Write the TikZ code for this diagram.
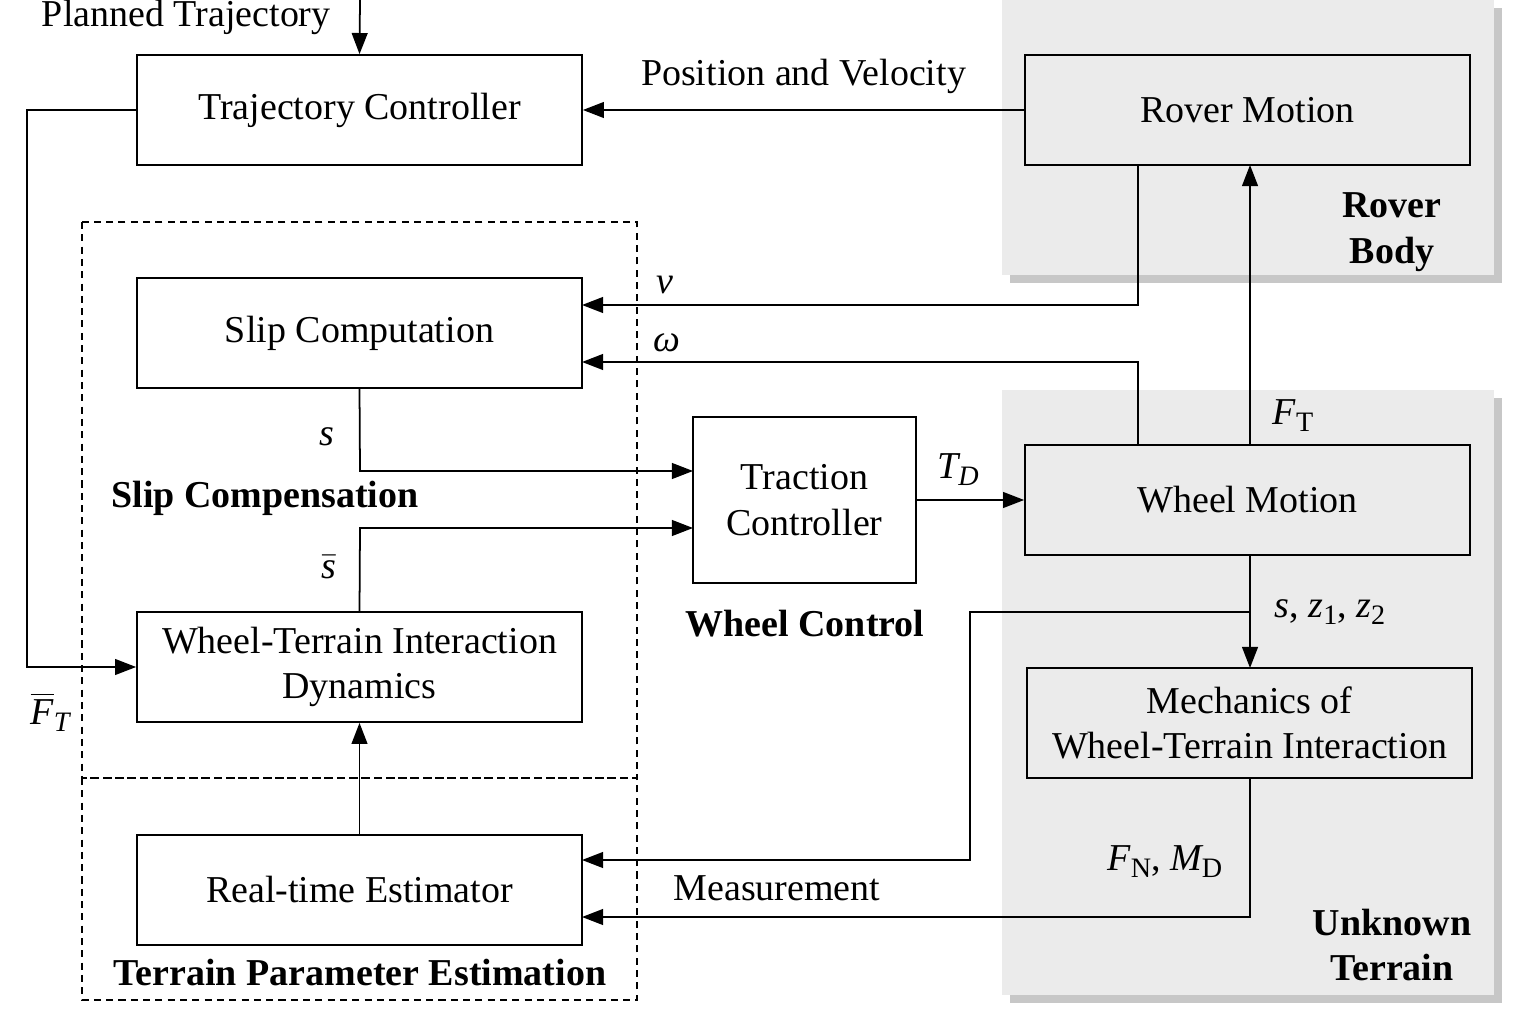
\documentclass[tikz,border=0pt]{standalone}
\usepackage{fontspec}
\setmainfont{Liberation Serif}
\usetikzlibrary{arrows.meta}
\begin{document}
\begin{tikzpicture}[x=0.01cm,y=-0.01cm,
  font=\fontsize{10.8}{13}\selectfont,
  blk/.style={draw,line width=0.5pt,inner sep=0pt,align=center},
  ln/.style={line width=0.5pt},
  ar/.style={ln,-{Triangle[length=6pt,width=4.5pt]}},
  bl/.style={font=\fontsize{10.8}{13}\selectfont\bfseries,align=center},
  panel/.style={fill=black!8},
  shadow/.style={fill=black!22}]
\useasboundingbox (0,0) rectangle (1516,1019);
% panels
\fill[shadow] (1010,8) rectangle (1502,283);
\fill[panel] (1002,0) rectangle (1494,275);
\fill[shadow] (1010,398) rectangle (1502,1003);
\fill[panel] (1002,390) rectangle (1494,995);
% dashed groups
\draw[ln,dash pattern=on 2pt off 1.5pt] (82,222) rectangle (637,778);
\draw[ln,dash pattern=on 2pt off 1.5pt] (82,778) rectangle (637,1000);
% boxes
\newcommand\mybox[6]{\node[blk,fill=#6,minimum width=#3*0.01cm,minimum height=#4*0.01cm] (#5) at (#1,#2) {};}
\mybox{359.5}{110}{445}{110}{tc}{white}
\mybox{1247.5}{110}{445}{110}{rm}{black!8}
\mybox{359.5}{333}{445}{110}{sc}{white}
\mybox{804.5}{500}{223}{166}{trc}{white}
\mybox{1247.5}{500}{445}{110}{wm}{black!8}
\mybox{359.5}{667}{445}{110}{wti}{white}
\mybox{1249.5}{723}{445}{110}{mech}{black!8}
\mybox{359.5}{890}{445}{110}{rte}{white}
\node at (tc) {Trajectory Controller};
\node at (rm) {Rover Motion};
\node at (sc) {Slip Computation};
\node[align=center] at (trc) {Traction\\Controller};
\node at (wm) {Wheel Motion};
\node[align=center] at (wti) {Wheel-Terrain Interaction\\Dynamics};
\node[align=center] at (mech) {Mechanics of\\Wheel-Terrain Interaction};
\node at (rte) {Real-time Estimator};
% group labels
\node[bl] at (1392,232) {Rover\\Body};
\node[bl] at (1392,945) {Unknown\\Terrain};
\node[bl] at (265,498) {Slip Compensation};
\node[bl] at (805,624) {Wheel Control};
\node[bl] at (360,972) {Terrain Parameter Estimation};
% connectors
\coordinate (pt) at (360,0);
\draw[ar] (pt) -- (tc.north);
\node[anchor=east] at (343,17) {Planned Trajectory};
\draw[ar] (rm.west) -- (tc.east) node[midway,above,yshift=1pt] {Position and Velocity};
\draw[ar] (tc.west) -- (27,110) -- (27,667) -- (wti.west);
\node at (50,712) {\itshape $\overline{\mbox{\itshape F}}$\raisebox{-0.4ex}{\fontsize{8}{9}\selectfont T}};
\draw[ar] (1138,165) -- (1138,305) -- (582,305);
\node at (665,285) {\itshape v};
\draw[ar] (1138,445) -- (1138,362) -- (582,362);
\node at (667,343) {\itshape ω};
\draw[ar] (1250,445) -- (1250,165);
\node at (1293,416) {\itshape F\raisebox{-0.4ex}{\upshape\fontsize{8}{9}\selectfont T}};
\draw[ar] (sc.south) -- (360,471) -- (693,471);
\node at (327,437) {\itshape s};
\draw[ar] (wti.north) -- (360,528) -- (693,528);
\node at (329,567) {\itshape $\bar{\mbox{\itshape s}}$};
\draw[ar] (trc.east) -- (wm.west);
\node at (958,470) {\itshape T\raisebox{-0.4ex}{\fontsize{8}{9}\selectfont D}};
\draw[ar] (1250,555) -- (1250,668);
\node at (1330,612) {\itshape s\upshape, \itshape z\raisebox{-0.4ex}{\upshape\fontsize{8}{9}\selectfont 1}\upshape, \itshape z\raisebox{-0.4ex}{\upshape\fontsize{8}{9}\selectfont 2}};
\coordinate (br) at (1250,612);
\draw[ar] (br) -- (970,612) -- (970,860) -- (582,860);
\draw[ar] (1250,778) -- (1250,917) -- (582,917);
\node at (1165,862) {\itshape F\raisebox{-0.4ex}{\upshape\fontsize{8}{9}\selectfont N}\upshape, \itshape M\raisebox{-0.4ex}{\upshape\fontsize{8}{9}\selectfont D}};
\node at (777,888) {Measurement};
\draw[ar] (rte.north) -- (wti.south);
\end{tikzpicture}
\end{document}
